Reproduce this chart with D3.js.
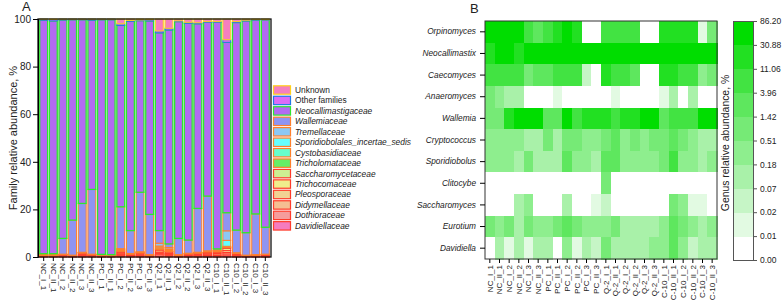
<!DOCTYPE html>
<html>
<head>
<meta charset="utf-8">
<script src="https://cdn.jsdelivr.net/npm/d3@7"></script>
<style>
  body { margin: 0; background: #fff; }
  svg { display: block; font-family: "Liberation Sans", Arial, sans-serif; }
</style>
</head>
<body>
<svg id="chart" width="784" height="307"></svg>
<script>
// ---- panel A data (family relative abundance, %) ----
const samplesA = ["NC_I_1","NC_II_1","NC_I_2","NC_II_2","NC_I_3","NC_II_3","PC_I_1","PC_II_1","PC_I_2","PC_II_2","PC_I_3","PC_II_3",
  "Q2_I_1","Q2_II_1","Q2_I_2","Q2_II_2","Q2_I_3","Q2_II_3","C10_I_1","C10_II_1","C10_I_2","C10_II_2","C10_I_3","C10_II_3"];

const davidiellaceae   = [.1,.1,.1,.05,.1,.1,.05,.05,.2,.1,.1,.05,.4,.3,.05,.1,.1,.1,.1,.5,.1,.05,.05,.05];
const dothioraceae     = [.2,.2,.2,.2,.3,.2,.2,.2,.5,.3,.4,.2,.8,.5,.2,.3,.4,.5,.5,.8,.4,.2,.2,.2];
const didymellaceae    = [.1,.1,.1,.1,.2,.1,.1,.1,.3,.2,.2,.1,.4,.3,.1,.2,.2,.3,.3,.6,.2,.1,.1,.1];
const pleosporaceae    = [.2,.2,.3,.2,.5,.3,.2,.15,.6,.3,.5,.2,.5,.4,.2,.3,.4,.5,.6,.8,.3,.2,.2,.2];
const trichocomaceae   = [.1,.1,.2,.1,.5,.2,.1,.1,.5,.2,.4,.2,.8,.6,.2,.3,.4,.5,.5,1.0,.3,.1,.2,.4];
const saccharomycetaceae = [.05,.05,.05,.05,.1,.05,.05,.03,.3,.1,.1,.05,.3,.2,.05,.1,.1,.2,.2,.3,.1,.05,.05,.05];
const tricholomataceae = [.1,.1,.1,.05,.1,.1,.05,.05,.3,.1,.2,.1,.3,.3,.1,.1,.2,.2,.3,.2,.2,.05,.1,.1];
const cystobasidiaceae = [.05,.05,.05,0,.05,.05,0,0,.3,.05,.1,.03,.6,.4,.03,.05,.05,.1,.1,.3,.05,.02,.03,.03];
const sporidiobolales  = [.05,.05,.05,.02,.05,.05,.02,.01,.2,.05,.1,.02,.5,.4,.02,.05,.05,.1,.1,2.5,.05,.01,.02,.02];
const tremellaceae     = [.05,.05,.05,.03,.1,.05,.03,.01,.3,.1,.1,.05,1.2,.6,.05,.1,.1,.1,.1,4.0,.1,.02,.05,.05];
const wallemiaceae     = [.4,.4,6.6,14.7,20.5,27.2,.3,.3,17.6,9.6,25.0,16.9,5.3,1.5,6.8,5.5,18.4,23.0,.6,7.6,9.5,9.4,17.1,11.3];
const neocallimastigaceae = [98.1,97.8,91.8,84.2,77.2,71.1,98.6,98.7,76.2,87.9,72.1,81.3,83.1,89.9,91.1,91.1,77.6,73.0,95.2,71.6,87.2,89.0,81.5,87.0];
const otherFamilies    = [.4,.6,.3,.2,.2,.4,.2,.2,.7,.4,.3,.5,.8,.7,.3,.4,.4,.3,.3,1.1,.4,.3,.2,.2];
const unknown          = [.1,.2,.1,.1,.1,.1,.1,.1,2.0,.6,.4,.3,5.0,3.9,.8,1.4,1.6,1.1,1.1,8.7,1.1,.5,.2,.3];

// legend order (top to bottom)
const familyNames = ["Unknown","Other families","Neocallimastigaceae","Wallemiaceae","Tremellaceae","Sporidiobolales_incertae_sedis",
  "Cystobasidiaceae","Tricholomataceae","Saccharomycetaceae","Trichocomaceae","Pleosporaceae","Didymellaceae","Dothioraceae","Davidiellaceae"];
const familyValues = [unknown, otherFamilies, neocallimastigaceae, wallemiaceae, tremellaceae, sporidiobolales,
  cystobasidiaceae, tricholomataceae, saccharomycetaceae, trichocomaceae, pleosporaceae, didymellaceae, dothioraceae, davidiellaceae];
const familyFill = ["#f57fbf","#dc6bf7","#b26af2","#8f94f2","#8cc8f4","#66ffff","#66ffcc","#66ee66","#cdef92","#efee8c","#f1d293","#f4bf92","#f59c9c","#f57cbf"];
const familyStroke = ["#ffd11a","#1f78e6","#2ee62e","#ff7f2a","#ff7f2a","#ff7f2a","#ff7f2a","#ff7f2a","#ff3b2a","#ff3b2a","#ff3b2a","#ff3b2a","#ff3b2a","#ff3b2a"];

// ---- panel B data (genus relative abundance, %) ----
const samplesB = ["NC_I_1","NC_II_1","NC_I_2","NC_II_2","NC_I_3","NC_II_3","PC_I_1","PC_II_1","PC_I_2","PC_II_2","PC_I_3","PC_II_3",
  "Q-2_I_1","Q-2_II_1","Q-2_I_2","Q-2_II_2","Q-2_I_3","Q-2_II_3","C-10_I_1","C-10_II_1","C-10_I_2","C-10_II_2","C-10_I_3","C-10_II_3"];
const genera = ["Orpinomyces","Neocallimastix","Caecomyces","Anaeromyces","Wallemia","Cryptococcus","Sporidiobolus","Clitocybe","Saccharomyces","Eurotium","Davidiella"];

const orpinomyces    = [55,62,48,58,7,2.5,6,18,45,15,0,0,6,8,7,5,0,0,22,19,20,21,0.015,1.0];
const neocallimastix = [25,40,45,28,60,65,62,58,50,55,60,62,48,52,55,57,60,58,54,50,52,56,59,61];
const caecomyces     = [6,7,8,6,0.9,2.5,3,6,7,5,0.04,0,15,8,6,2.8,0,0,14,16,7,6,0.3,1.0];
const anaeromyces    = [0.9,0.3,0.1,0.12,0,0,0,0.015,0,0,0,0,0,0.015,0,0,0,0,0.015,0.12,0,0.1,0,0];
const wallemia       = [1.0,1.2,15,32,35,40,2.2,2.0,34,8,20,18,16,6,14,15,33,31,2.0,9,8,7,35,38];
const cryptococcus   = [0.3,0.35,0.28,0.3,0.12,0.15,0.8,0.13,0.9,1.0,0.3,0.35,0.8,2.0,0.3,0.7,0.35,0.8,0.9,1.8,0.8,0.3,0.15,0.14];
const sporidiobolus  = [0.3,0.32,0.28,0.12,0.8,0.14,0.13,0.12,2.0,0.35,0.3,0.15,2.2,1.8,0.4,0.35,0.3,0.4,1.0,5,0.4,0.3,0.13,0.3];
const clitocybe      = [0,0,0,0,0,0,0,0,0,0,0,0,0.9,0,0,0,0,0,0,0,0,0,0,0];
const saccharomyces  = [0,0,0,0.12,0.3,0,0,0,0.15,0,0,0.015,0.04,0,0,0,0,0,0,0.9,0.3,0.015,0.015,0];
const eurotium       = [0.8,0.3,0.9,0.12,0.8,0.3,0.35,0.9,2.0,0.8,0.3,0.3,0.3,0.9,0.12,0.13,0.14,0.12,0.3,2.2,0.8,0.3,0.12,0.3];
const davidiella     = [0,0.12,0.015,0.13,0.015,0.12,0.14,0,0.3,0.015,0.15,0.04,0.8,0.12,0.13,0.12,0.14,0.3,0.3,2.0,0.3,0.04,0.12,0.13];
const genusValues = [orpinomyces, neocallimastix, caecomyces, anaeromyces, wallemia, cryptococcus, sporidiobolus, clitocybe, saccharomyces, eurotium, davidiella];

const legendTicks = ["0.00","0.01","0.02","0.07","0.18","0.51","1.42","3.96","11.06","30.88","86.20"];
const heatColors = ["#ffffff","#e2fae2","#c6f5c6","#a9f1a9","#8eee8e","#76ea76","#5ee75e","#42e342","#22e022","#00dd00"];

const svg = d3.select("#chart");
const ink = "#222";

// ================= Panel A =================
const ax = d3.scaleBand().domain(samplesA).range([38, 271]).padding(0.18);
const ay = d3.scaleLinear().domain([0, 100]).range([257, 19]);

const rows = samplesA.map((s, i) => {
  const r = { sample: s };
  familyNames.forEach((f, k) => r[f] = familyValues[k][i]);
  return r;
});
const stackKeys = familyNames.slice().reverse();   // Davidiellaceae at the bottom
const series = d3.stack().keys(stackKeys)(rows);

const gA = svg.append("g");
series.forEach(s => {
  const k = familyNames.indexOf(s.key);
  gA.append("g")
    .attr("fill", familyFill[k])
    .attr("stroke", familyStroke[k])
    .attr("stroke-width", s.key === "Neocallimastigaceae" ? 1.3 : 1)
    .selectAll("rect")
    .data(s.filter(d => d[1] - d[0] > 0))
    .join("rect")
    .attr("x", d => ax(d.data.sample))
    .attr("width", ax.bandwidth())
    .attr("y", d => ay(Math.min(d[1], 100)))
    .attr("height", d => Math.max(0, ay(d[0]) - ay(Math.min(d[1], 100))));
});

// frame
svg.append("rect").attr("x", 38).attr("y", 19).attr("width", 233).attr("height", 238)
  .attr("fill", "none").attr("stroke", "#111").attr("stroke-width", 1.3);

const yAxisA = svg.append("g").attr("transform", "translate(38,0)")
  .call(d3.axisLeft(ay).tickValues([0, 20, 40, 60, 80, 100]).tickSize(5).tickPadding(2));
yAxisA.selectAll("text").attr("font-size", 10).attr("fill", ink).attr("font-family", null);

const xAxisA = svg.append("g").attr("transform", "translate(0,257)")
  .call(d3.axisBottom(ax).tickSize(4).tickSizeOuter(0));
xAxisA.select(".domain").remove();
xAxisA.selectAll("text")
  .attr("font-size", 8).attr("fill", ink).attr("font-family", null)
  .attr("transform", "rotate(90)")
  .attr("text-anchor", "start")
  .attr("x", 6).attr("y", 0).attr("dy", "0.35em");

svg.append("text")
  .attr("transform", "translate(13,138) rotate(-90)")
  .attr("text-anchor", "middle").attr("dy", "0.35em")
  .attr("font-size", 11).attr("fill", ink)
  .text("Family relative abundance, %");

svg.append("text").attr("x", 22).attr("y", 11).attr("font-size", 13).attr("fill", ink).text("A");

// legend A
const legA = svg.append("g").attr("transform", "translate(273,90)");
familyNames.forEach((f, i) => {
  const g = legA.append("g").attr("transform", `translate(0,${i * 10.45})`);
  g.append("rect").attr("x", 0.5).attr("y", -4.2).attr("width", 17).attr("height", 8.4)
    .attr("fill", familyFill[i]).attr("stroke", familyStroke[i]).attr("stroke-width", 1.2);
  g.append("text").attr("x", 22).attr("dy", "0.35em").attr("font-size", 8.4).attr("fill", ink)
    .attr("font-style", i < 2 ? "normal" : "italic")
    .text(f);
});

// ================= Panel B =================
const bx = d3.scaleBand().domain(samplesB).range([485, 717]);
const by = d3.scaleBand().domain(genera).range([21, 259]);
const color = d3.scaleThreshold()
  .domain(legendTicks.slice(1, -1).map(Number))
  .range(heatColors);

const cells = [];
genera.forEach((g, r) => samplesB.forEach((s, c) => cells.push({ genus: g, sample: s, value: genusValues[r][c] })));

svg.append("g").attr("shape-rendering", "crispEdges")
  .selectAll("rect").data(cells).join("rect")
  .attr("x", d => bx(d.sample))
  .attr("y", d => by(d.genus))
  .attr("width", bx.bandwidth() + 0.5)
  .attr("height", by.bandwidth() + 0.5)
  .attr("fill", d => color(d.value));

svg.append("rect").attr("x", 485).attr("y", 21).attr("width", 232).attr("height", 238)
  .attr("fill", "none").attr("stroke", "#333").attr("stroke-width", 1);

const yAxisB = svg.append("g").attr("transform", "translate(485,0)")
  .call(d3.axisLeft(by).tickSize(5).tickPadding(4));
yAxisB.select(".domain").remove();
yAxisB.selectAll("text").attr("font-size", 8.3).attr("font-style", "italic").attr("fill", ink).attr("font-family", null);

const xAxisB = svg.append("g").attr("transform", "translate(0,259)")
  .call(d3.axisBottom(bx).tickSize(4));
xAxisB.select(".domain").remove();
xAxisB.selectAll("text")
  .attr("font-size", 8).attr("fill", ink).attr("font-family", null)
  .attr("transform", "rotate(-90)")
  .attr("text-anchor", "end")
  .attr("x", -6).attr("y", 0).attr("dy", "0.35em");

svg.append("text").attr("x", 470).attr("y", 13).attr("font-size", 13).attr("fill", ink).text("B");

// colour legend
const ly = d3.scalePoint().domain(legendTicks).range([260, 21]);
const legB = svg.append("g").attr("shape-rendering", "crispEdges");
legendTicks.slice(0, -1).forEach((t, i) => {
  legB.append("rect")
    .attr("x", 733).attr("width", 20)
    .attr("y", ly(legendTicks[i + 1]))
    .attr("height", ly(t) - ly(legendTicks[i + 1]) + 0.5)
    .attr("fill", heatColors[i]);
});
legB.append("rect").attr("x", 733).attr("y", 21).attr("width", 20).attr("height", 239)
  .attr("fill", "none").attr("stroke", "#555").attr("stroke-width", 1);
const legAxis = svg.append("g").attr("transform", "translate(753,0)")
  .call(d3.axisRight(ly).tickSize(4).tickPadding(3));
legAxis.select(".domain").remove();
legAxis.selectAll("text").attr("font-size", 8.5).attr("fill", ink).attr("font-family", null);
legAxis.selectAll("line").attr("stroke", "#555");

svg.append("text")
  .attr("transform", "translate(725,143) rotate(-90)")
  .attr("text-anchor", "middle").attr("dy", "0.35em")
  .attr("font-size", 10.4).attr("fill", ink)
  .text("Genus relative abundance, %");
</script>
</body>
</html>
